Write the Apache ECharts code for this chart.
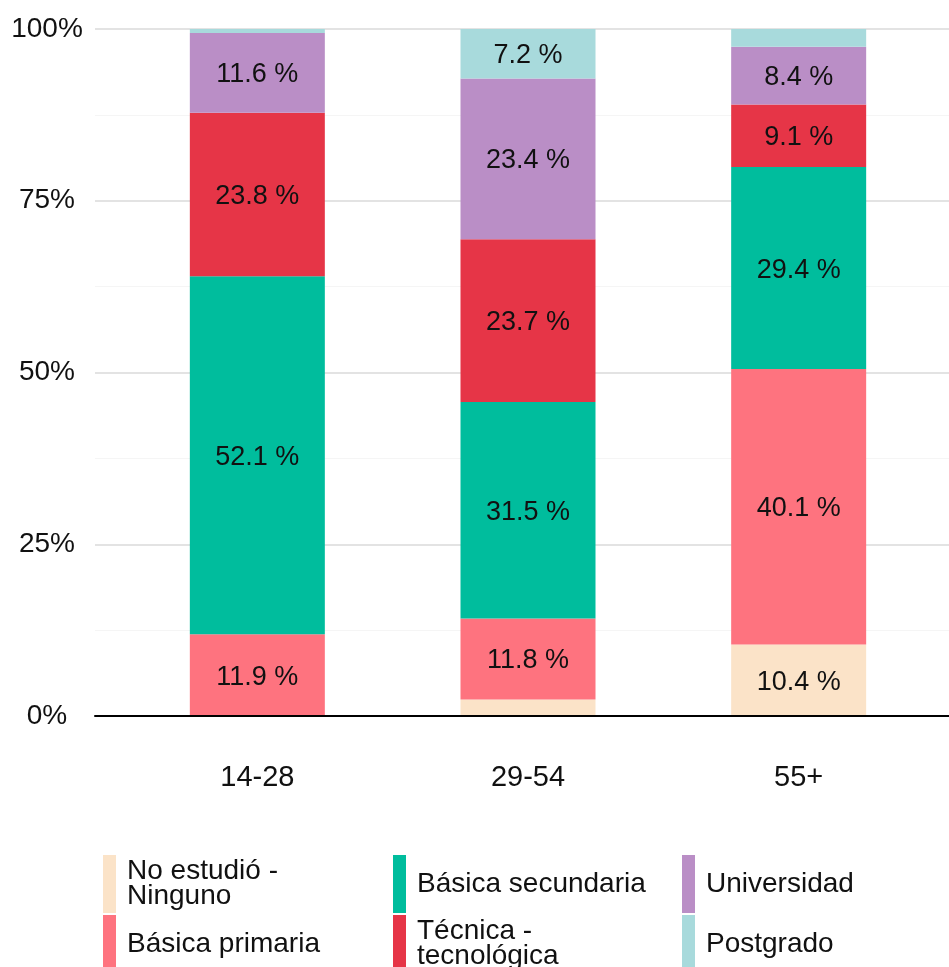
<!DOCTYPE html>
<html>
<head>
<meta charset="utf-8">
<script src="https://cdn.jsdelivr.net/npm/echarts@6/dist/echarts.min.js"></script>
<style>
  html, body { margin: 0; padding: 0; background: #fff; }
  #main { width: 949px; height: 967px; }
</style>
</head>
<body>
<div id="main"></div>
<script>
// age groups on the x axis
var categories = ['14-28', '29-54', '55+'];

// share of each education level per age group (%)
var ninguno = [0, 2.4, 10.4];
var primaria = [11.9, 11.8, 40.1];
var secundaria = [52.1, 31.5, 29.4];
var tecnica = [23.8, 23.7, 9.1];
var universidad = [11.6, 23.4, 8.4];
var postgrado = [0.6, 7.2, 2.6];

var yTicks = [0, 25, 50, 75, 100];

var seriesNames = ['No estudió - Ninguno', 'Básica primaria', 'Básica secundaria',
    'Técnica - tecnológica', 'Universidad', 'Postgrado'];
var legendText = {
    'No estudió - Ninguno': 'No estudió -\nNinguno',
    'Técnica - tecnológica': 'Técnica -\ntecnológica'
};
var seriesValues = [ninguno, primaria, secundaria, tecnica, universidad, postgrado];
var colors = ['#fbe3c8', '#fe737f', '#00bd9d', '#e63547', '#ba8ec6', '#a8dadc'];

var FONT = '"Liberation Sans", Arial, sans-serif';

var chart = echarts.init(document.getElementById('main'));

var series = seriesNames.map(function (name, k) {
    return {
        name: name,
        type: 'bar',
        stack: 'total',
        xAxisIndex: 1,
        yAxisIndex: 1,
        barWidth: 135,
        itemStyle: { color: colors[k] },
        label: {
            show: true,
            position: 'inside',
            offset: [0, 2],
            fontFamily: FONT,
            fontSize: 27,
            color: '#111',
            formatter: function (p) {
                return p.value >= 5 ? p.value.toFixed(1) + ' %' : '';
            }
        },
        emphasis: { disabled: true },
        data: seriesValues[k]
    };
});

function legendCol(names, left) {
    return {
        orient: 'vertical',
        left: left,
        top: 855,
        height: 140,
        padding: 0,
        itemWidth: 13,
        itemHeight: 58,
        itemGap: 2,
        icon: 'rect',
        selectedMode: false,
        data: names,
        formatter: function (name) { return legendText[name] || name; },
        textStyle: {
            fontFamily: FONT,
            fontSize: 28,
            lineHeight: 25,
            color: '#111',
            padding: [0, 0, 4, 6]
        }
    };
}

var option = {
    animation: false,
    backgroundColor: '#fff',
    color: colors,
    grid: [
        // panel: grid lines, y labels and base line
        { left: 95, right: -12, top: 29, bottom: 251 },
        // bars: bands 270.5 px wide, as in the padded discrete scale
        { left: 122, right: 15, top: 29, bottom: 251 }
    ],
    xAxis: [
        {
            gridIndex: 0,
            type: 'value',
            min: 0,
            max: 1,
            z: 5,
            axisLine: { show: true, lineStyle: { color: '#000', width: 2 } },
            axisTick: { show: false },
            axisLabel: { show: false },
            splitLine: { show: false }
        },
        {
            gridIndex: 1,
            type: 'category',
            data: categories,
            axisLine: { show: false },
            axisTick: { show: false },
            axisLabel: {
                margin: 47,
                fontFamily: FONT,
                fontSize: 29,
                color: '#111'
            }
        }
    ],
    yAxis: [
        {
            gridIndex: 0,
            type: 'value',
            min: 0,
            max: 100,
            interval: 25,
            axisLine: { show: false },
            axisTick: { show: false },
            axisLabel: {
                margin: 48,
                align: 'center',
                padding: [3, 0, 0, 0],
                fontFamily: FONT,
                fontSize: 28,
                color: '#111',
                formatter: function (v) { return yTicks.indexOf(v) >= 0 ? v + '%' : ''; }
            },
            splitLine: { lineStyle: { color: '#dadada', width: 1.5 } },
            minorTick: { show: false, splitNumber: 2 },
            minorSplitLine: { show: true, lineStyle: { color: '#f5f5f5', width: 1 } }
        },
        {
            gridIndex: 1,
            type: 'value',
            min: 0,
            max: 100,
            show: false
        }
    ],
    legend: [
        legendCol([seriesNames[0], seriesNames[1]], 103),
        legendCol([seriesNames[2], seriesNames[3]], 393),
        legendCol([seriesNames[4], seriesNames[5]], 682)
    ],
    series: series
};

chart.setOption(option);
</script>
</body>
</html>
